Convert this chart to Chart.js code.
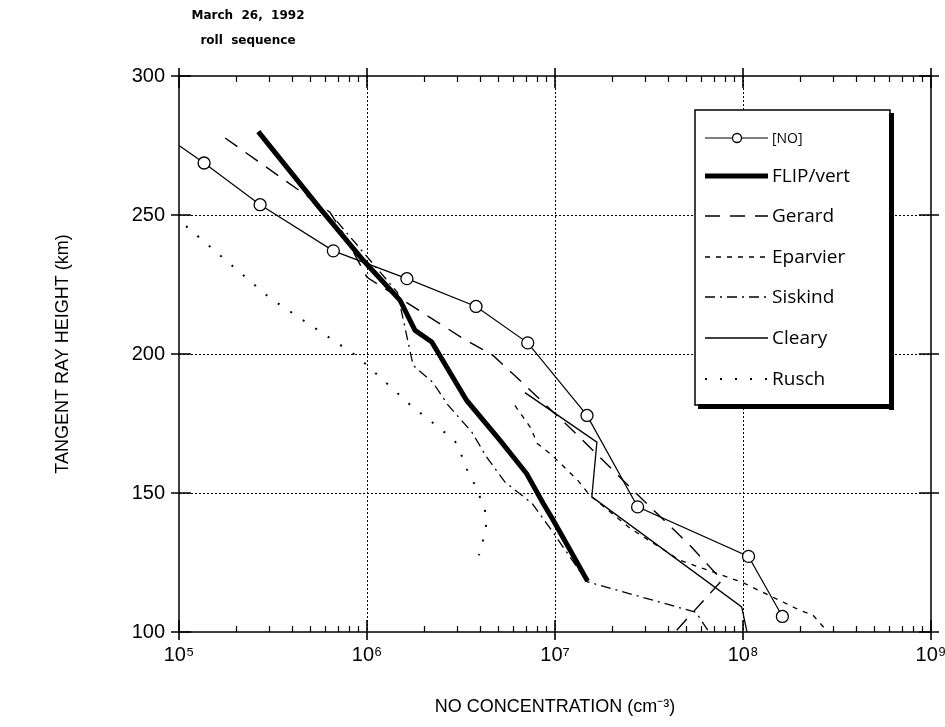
<!DOCTYPE html>
<html>
<head>
<meta charset="utf-8">
<script src="https://cdn.jsdelivr.net/npm/chart.js@4.4.1/dist/chart.umd.min.js"></script>
<style>
  html, body { margin: 0; padding: 0; background: #fff; }
  #wrap { width: 945px; height: 727px; position: relative; }
</style>
</head>
<body>
<div id="wrap"><canvas id="noChart"></canvas></div>
<script>
// values (x = NO concentration, y = tangent ray height km)
const noX = [1.0e5, 1.36e5, 2.70e5, 6.62e5, 1.63e6, 3.80e6, 7.16e6, 1.48e7, 2.75e7, 1.07e8, 1.62e8];
const noH = [275, 268.7, 253.7, 237.1, 227.1, 217.1, 204, 177.9, 145, 127.2, 105.6];

const flipX = [2.64e5, 5.62e5, 9.55e5, 1.50e6, 1.80e6, 2.21e6, 3.39e6, 5.09e6, 7.06e6, 8.66e6, 9.79e6, 1.15e7, 1.49e7];
const flipH = [280, 252.4, 233.7, 219.3, 208.5, 204.3, 183.3, 169, 157, 146.2, 140.2, 131.8, 118.3];

const gerardX = [1.76e5, 6.35e5, 7.64e5, 1.0e6, 3.24e6, 4.68e6, 6.67e6, 1.32e7, 2.60e7, 5.22e7, 7.73e7, 4.35e7];
const gerardH = [277.7, 251, 242.3, 227.6, 205.6, 199.5, 189.8, 170.8, 151, 131.2, 118.6, 100];

const eparvierX = [6.12e6, 7.45e6, 8.02e6, 9.64e6, 1.32e7, 1.53e7, 2.51e7, 4.62e7, 9.89e7, 2.01e8, 2.36e8, 2.83e8];
const eparvierH = [181.5, 173.3, 167.9, 163.6, 154.6, 149.2, 137.3, 125.8, 117.9, 107.8, 106, 100];

const siskindX = [6.92e5, 1.45e6, 1.76e6, 2.24e6, 2.70e6, 3.62e6, 4.30e6, 5.42e6, 7.55e6, 9.75e6, 1.48e7, 5.62e7, 6.59e7];
const siskindH = [247.7, 222.2, 195.9, 189.8, 181.6, 171.8, 163.2, 153.9, 146.3, 135.9, 118.1, 107.1, 100];

const clearyX = [6.92e6, 1.67e7, 1.57e7, 9.84e7, 1.05e8];
const clearyH = [186.1, 168.3, 148.6, 109, 100];

const ruschX = [1.09e5, 3.05e5, 8.86e5, 1.73e6, 2.48e6, 2.94e6, 3.20e6, 3.40e6, 3.71e6, 3.99e6, 4.24e6, 4.30e6, 4.14e6, 3.94e6];
const ruschH = [246, 220.1, 199.2, 181.2, 172.9, 168.6, 163.2, 158.5, 153.5, 148.5, 143.8, 138.4, 133, 127.6];

const yTicks = [100, 150, 200, 250, 300];
const decades = [1e5, 1e6, 1e7, 1e8, 1e9];
const supDigits = { 5: '⁵', 6: '⁶', 7: '⁷', 8: '⁸', 9: '⁹' };

function pts(xs, hs) {
  return xs.map((x, i) => ({ x: x, y: hs[i] }));
}

const datasets = [
  { label: '[NO]', data: pts(noX, noH), borderWidth: 1.2, borderDash: [],
    pointRadius: noX.map((_, i) => i === 0 ? 0 : 6), pointBackgroundColor: '#fff', pointBorderWidth: 1.3 },
  { label: 'FLIP/vert', data: pts(flipX, flipH), borderWidth: 5, borderDash: [], pointRadius: 0 },
  { label: 'Gerard', data: pts(gerardX, gerardH), borderWidth: 1.4, borderDash: [15, 10], pointRadius: 0 },
  { label: 'Eparvier', data: pts(eparvierX, eparvierH), borderWidth: 1.3, borderDash: [5, 6], pointRadius: 0 },
  { label: 'Siskind', data: pts(siskindX, siskindH), borderWidth: 1.3, borderDash: [10, 5, 2, 5], pointRadius: 0 },
  { label: 'Cleary', data: pts(clearyX, clearyH), borderWidth: 1.3, borderDash: [], pointRadius: 0 },
  { label: 'Rusch', data: pts(ruschX, ruschH), borderWidth: 2, borderDash: [2, 13], pointRadius: 0 },
].map(d => Object.assign({
  showLine: true, borderColor: '#000', pointBorderColor: '#000', tension: 0, fill: false
}, d));

// frame, dotted grid, inward ticks, boxed legend, header text
const paperPlugin = {
  id: 'paper',
  beforeDatasetsDraw(chart) {
    const { ctx, chartArea: a, scales: { x, y } } = chart;
    ctx.save();
    ctx.strokeStyle = '#000';
    ctx.lineWidth = 1;
    ctx.setLineDash([2, 2]);
    ctx.beginPath();
    decades.slice(1, -1).forEach(v => {
      const px = Math.round(x.getPixelForValue(v)) + 0.5;
      ctx.moveTo(px, a.top); ctx.lineTo(px, a.bottom);
    });
    yTicks.slice(1, -1).forEach(v => {
      const py = Math.round(y.getPixelForValue(v)) + 0.5;
      ctx.moveTo(a.left, py); ctx.lineTo(a.right, py);
    });
    ctx.stroke();
    ctx.restore();
  },
  afterDatasetsDraw(chart) {
    const { ctx, chartArea: a, scales: { x, y } } = chart;
    ctx.save();
    ctx.strokeStyle = '#000';
    ctx.setLineDash([]);
    // minor ticks on top and bottom
    ctx.lineWidth = 1.2;
    ctx.beginPath();
    decades.slice(0, -1).forEach(d => {
      for (let k = 2; k <= 9; k++) {
        const px = Math.round(x.getPixelForValue(d * k)) + 0.5;
        ctx.moveTo(px, a.bottom); ctx.lineTo(px, a.bottom - 6);
        ctx.moveTo(px, a.top); ctx.lineTo(px, a.top + 6);
      }
    });
    ctx.stroke();
    // major ticks crossing the frame
    ctx.lineWidth = 1.6;
    ctx.beginPath();
    decades.forEach(v => {
      const px = x.getPixelForValue(v);
      ctx.moveTo(px, a.bottom + 8); ctx.lineTo(px, a.bottom - 12);
      ctx.moveTo(px, a.top - 8); ctx.lineTo(px, a.top + 12);
    });
    yTicks.forEach(v => {
      const py = y.getPixelForValue(v);
      ctx.moveTo(a.left - 8, py); ctx.lineTo(a.left + 12, py);
      ctx.moveTo(a.right + 8, py); ctx.lineTo(a.right - 12, py);
    });
    ctx.stroke();
    ctx.lineWidth = 1.5;
    ctx.strokeRect(a.left, a.top, a.right - a.left, a.bottom - a.top);
    ctx.restore();
  },
  afterDraw(chart) {
    const { ctx } = chart;
    ctx.save();
    // header
    ctx.fillStyle = '#000';
    ctx.font = 'bold 12px "DejaVu Sans"';
    ctx.textAlign = 'center';
    ctx.textBaseline = 'middle';
    ctx.fillText('March  26,  1992', 248, 16);
    ctx.fillText('roll  sequence', 248, 41);

    // legend box
    const L = 695, T = 110, R = 890, B = 405;
    ctx.fillStyle = '#fff';
    ctx.fillRect(L, T, R - L, B - T);
    ctx.strokeStyle = '#000';
    ctx.lineWidth = 1.5;
    ctx.setLineDash([]);
    ctx.strokeRect(L, T, R - L, B - T);
    ctx.fillStyle = '#000';
    ctx.fillRect(R - 1, T + 3, 5, B - T + 2);
    ctx.fillRect(L + 3, B - 1, R - L + 1, 5);

    const rows = [138, 176, 216, 257, 297, 338, 379];
    const x0 = 705, x1 = 768;
    chart.data.datasets.forEach((ds, i) => {
      const ry = rows[i];
      ctx.strokeStyle = '#000';
      ctx.lineWidth = ds.borderWidth;
      ctx.setLineDash(ds.borderDash);
      ctx.beginPath();
      ctx.moveTo(x0, ry); ctx.lineTo(x1, ry);
      ctx.stroke();
      ctx.setLineDash([]);
      if (i === 0) {
        ctx.beginPath();
        ctx.fillStyle = '#fff';
        ctx.lineWidth = 1.3;
        ctx.arc(737, ry, 4.5, 0, Math.PI * 2);
        ctx.fill(); ctx.stroke();
      }
      ctx.fillStyle = '#000';
      ctx.textAlign = 'left';
      ctx.textBaseline = 'middle';
      ctx.font = i === 0 ? '14px "Open Sans"' : '19px "Open Sans"';
      ctx.fillText(ds.label, 772, ry + 1);
    });
    ctx.restore();
  }
};

const ctx = document.getElementById('noChart').getContext('2d');
new Chart(ctx, {
  type: 'scatter',
  data: { datasets: datasets },
  options: {
    responsive: true,
    maintainAspectRatio: false,
    animation: false,
    layout: { padding: { left: 52, right: 0, top: 76, bottom: 9 } },
    plugins: {
      legend: { display: false },
      tooltip: { enabled: false },
    },
    scales: {
      x: {
        type: 'logarithmic',
        min: 1e5,
        max: 1e9,
        grid: { display: false, drawTicks: false },
        border: { display: false },
        afterFit: s => { s.height = 86; s.paddingRight = 14; },
        ticks: {
          autoSkip: false,
          maxRotation: 0,
          padding: 11,
          color: '#000',
          font: { family: 'Liberation Sans', size: 20 },
          callback: function (value) {
            const e = Math.log10(value);
            if (Math.abs(e - Math.round(e)) < 1e-9) return '10' + supDigits[Math.round(e)];
            return '';
          },
        },
        title: {
          display: true,
          text: 'NO CONCENTRATION (cm⁻³)',
          color: '#000',
          font: { family: 'Liberation Sans', size: 18 },
          padding: { top: 0, bottom: 0 },
        },
      },
      y: {
        type: 'linear',
        min: 100,
        max: 300,
        grid: { display: false, drawTicks: false },
        border: { display: false },
        afterFit: s => { s.width = 127; },
        ticks: {
          stepSize: 50,
          padding: 14,
          color: '#000',
          font: { family: 'Liberation Sans', size: 20 },
        },
        title: {
          display: true,
          text: 'TANGENT RAY HEIGHT (km)',
          color: '#000',
          font: { family: 'Liberation Sans', size: 18 },
          padding: { top: 0, bottom: 0 },
        },
      },
    },
  },
  plugins: [paperPlugin],
});
</script>
</body>
</html>
